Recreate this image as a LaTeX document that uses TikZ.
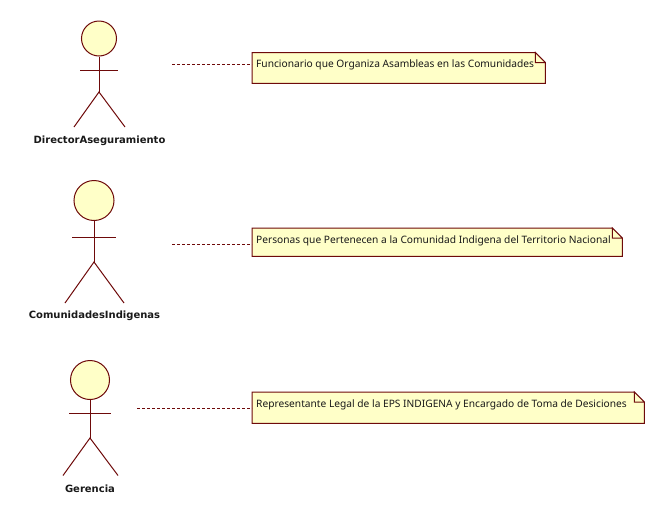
\documentclass[tikz,border=0pt]{standalone}
\usepackage{fontspec}
\setmainfont{Noto Sans}
\newfontfamily\actorfont{DejaVu Sans Bold}
\definecolor{umlline}{HTML}{6E0A0A}
\definecolor{umlfill}{HTML}{FFFFC8}
\tikzset{
  limb/.style={draw=umlline, line width=1pt},
  head/.style={circle, draw=umlline, fill=umlfill, line width=1pt, inner sep=0pt},
  actorname/.style={font=\actorfont\fontsize{10}{12}\selectfont, text=black!90, inner sep=0pt},
  notebox/.style={fill=umlfill, font=\fontsize{10.2}{12}\selectfont, text=black!90, anchor=north west,
    align=left, inner sep=0pt},
  notelink/.style={draw=umlline, line width=0.8pt, dash pattern=on 3pt off 2pt},
}
% outline with folded corner, goes on top of the note fill
\newcommand{\notefold}[1]{
  \fill [white] (#1.north east) -- ++(-10, 0) -- ++(10, 10) -- cycle;
  \draw [limb] (#1.north east) ++(-10, 0) -- (#1.north west) -- (#1.south west) -- (#1.south east) -- ++(0, 0) |- ([xshift=-10pt, yshift=-10pt] #1.north east) -- ([xshift=-10pt] #1.north east) -- ([yshift=-10pt] #1.north east);
}
\begin{document}
\begin{tikzpicture}[x=1pt, y=-1pt]
  \useasboundingbox (0, 0) rectangle (665, 520);
  % first actor
  \node (head1) [head, minimum size=35pt] at (99, 38.5) {};
  \coordinate (hip1) at (99, 92);
  \coordinate (armL1) at (80, 70);
  \coordinate (armR1) at (118, 70);
  \coordinate (footL1) at (74, 127);
  \coordinate (footR1) at (125, 127);
  \draw [limb] (head1) -- (hip1);
  \draw [limb] (armL1) -- (armR1);
  \draw [limb] (footL1) -- (hip1) -- (footR1);
  \node (name1) [actorname] at (99.5, 140.5) {DirectorAseguramiento};
  % second actor
  \node (head2) [head, minimum size=40pt] at (94, 200.5) {};
  \coordinate (hip2) at (94, 262);
  \coordinate (armL2) at (72, 237);
  \coordinate (armR2) at (116, 237);
  \coordinate (footL2) at (65, 303);
  \coordinate (footR2) at (124, 303);
  \draw [limb] (head2) -- (hip2);
  \draw [limb] (armL2) -- (armR2);
  \draw [limb] (footL2) -- (hip2) -- (footR2);
  \node (name2) [actorname] at (94.5, 316) {ComunidadesIndigenas};
  % third actor
  \node (head3) [head, minimum size=39pt] at (90, 380) {};
  \coordinate (hip3) at (90, 438);
  \coordinate (armL3) at (69, 413);
  \coordinate (armR3) at (111, 413);
  \coordinate (footL3) at (63, 475.5);
  \coordinate (footR3) at (118, 475.5);
  \draw [limb] (head3) -- (hip3);
  \draw [limb] (armL3) -- (armR3);
  \draw [limb] (footL3) -- (hip3) -- (footR3);
  \node (name3) [actorname] at (90, 488.5) {Gerencia};
  % notes
  \node (note1) [notebox, minimum width=293pt, minimum height=30.5pt] at (252, 52.5) {};
  \node (text1) [notebox, fill=none, anchor=west] at (256, 64.5) {Funcionario que Organiza Asambleas en las Comunidades};
  \notefold{note1}
  \node (note2) [notebox, minimum width=370pt, minimum height=28pt] at (252, 228) {};
  \node (text2) [notebox, fill=none, anchor=west] at (256, 240.5) {Personas que Pertenecen a la Comunidad Indigena del Territorio Nacional};
  \notefold{note2}
  \node (note3) [notebox, minimum width=392pt, minimum height=31pt] at (252, 392) {};
  \node (text3) [notebox, fill=none, anchor=west] at (256, 404.5) {Representante Legal de la EPS INDIGENA y Encargado de Toma de Desiciones};
  \notefold{note3}
  % dashed links
  \coordinate (link1) at (172, 64);
  \coordinate (link2) at (172, 244);
  \coordinate (link3) at (137, 408);
  \draw [notelink] (link1) -- (note1.west |- link1);
  \draw [notelink] (link2) -- (note2.west |- link2);
  \draw [notelink] (link3) -- (note3.west |- link3);
\end{tikzpicture}
\end{document}
